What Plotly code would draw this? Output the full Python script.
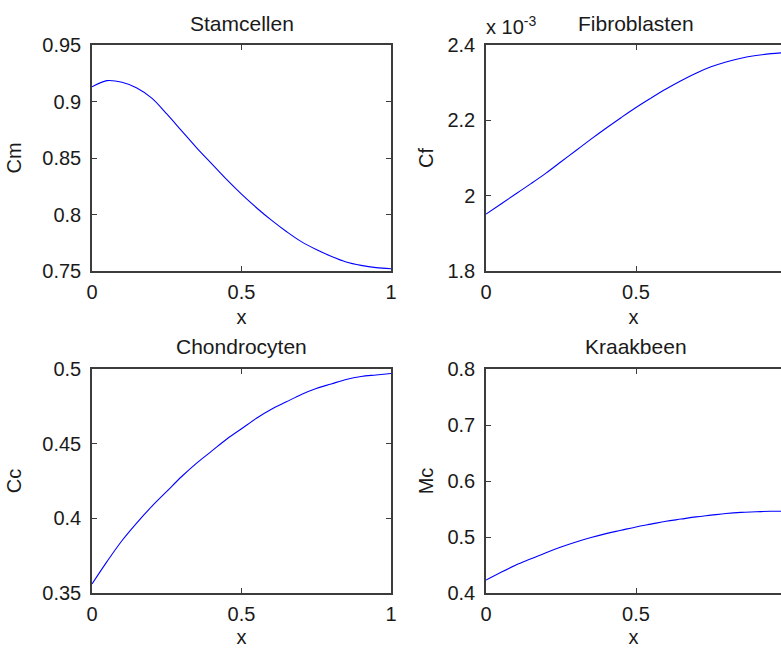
import plotly.graph_objects as go
from plotly.subplots import make_subplots

# Spatial coordinate (dimensionless position along the domain)
x = [0.00, 0.05, 0.10, 0.15, 0.20, 0.25, 0.30, 0.35, 0.40, 0.45, 0.50,
     0.55, 0.60, 0.65, 0.70, 0.75, 0.80, 0.85, 0.90, 0.95, 1.00]

# Stem cell concentration
cm = [0.913, 0.9185, 0.917, 0.912, 0.903, 0.889, 0.874, 0.859, 0.845, 0.831, 0.818,
      0.806, 0.795, 0.785, 0.776, 0.769, 0.763, 0.758, 0.755, 0.753, 0.752]

# Fibroblast concentration
cf = [1.951e-3, 1.978e-3, 2.005e-3, 2.032e-3, 2.060e-3, 2.090e-3, 2.120e-3, 2.150e-3,
      2.179e-3, 2.207e-3, 2.234e-3, 2.259e-3, 2.283e-3, 2.305e-3, 2.325e-3, 2.342e-3,
      2.355e-3, 2.365e-3, 2.372e-3, 2.377e-3, 2.380e-3]

# Chondrocyte concentration
cc = [0.356, 0.371, 0.385, 0.397, 0.408, 0.418, 0.428, 0.437, 0.445, 0.453, 0.460,
      0.467, 0.473, 0.478, 0.483, 0.487, 0.490, 0.493, 0.495, 0.496, 0.497]

# Cartilage matrix density
mc = [0.423, 0.437, 0.450, 0.461, 0.472, 0.482, 0.491, 0.499, 0.506, 0.512, 0.518,
      0.523, 0.528, 0.532, 0.536, 0.539, 0.542, 0.544, 0.545, 0.546, 0.546]

titles = ["Stamcellen", "Fibroblasten", "Chondrocyten", "Kraakbeen"]
ylabels = ["Cm", "Cf", "Cc", "Mc"]
x_ticks = [0, 0.5, 1]
cf_ticks = [1.8e-3, 2.0e-3, 2.2e-3, 2.4e-3]
cf_ticktext = ["1.8", "2", "2.2", "2.4"]

W, H = 781, 648
FONT = "Liberation Sans, Arial, sans-serif"
AXCOL = "#3c3c3c"
TXT = "#1a1a1a"

fig = make_subplots(rows=2, cols=2)

series = [(1, 1, cm), (1, 2, cf), (2, 1, cc), (2, 2, mc)]
for r, c, y in series:
    fig.add_trace(go.Scatter(x=x, y=y, mode="lines", line=dict(color="#0000ff", width=1.1, shape="spline"),
                             showlegend=False, hoverinfo="skip"), row=r, col=c)

# panel frames in pixels: (left, right) per column, (top, bottom) per row
left_px = {1: (92, 391), 2: (486, 786)}
top_px = {1: (45, 271), 2: (369, 593)}
# vertical centre of each row's panel title
title_px = {1: 23, 2: 346}
# gap between tick labels and the y-axis title, per column
ytitle_standoff = {1: 15, 2: 8}

yranges = {(1, 1): [0.75, 0.95], (1, 2): [1.8e-3, 2.4e-3], (2, 1): [0.35, 0.5], (2, 2): [0.4, 0.8]}
ydticks = {(1, 1): 0.05, (2, 1): 0.05, (2, 2): 0.1}

for i, (r, c, _) in enumerate(series):
    l, rr = left_px[c]
    t, b = top_px[r]
    x0 = l / W
    x1 = min(rr, W) / W
    # visible part of the horizontal range when the panel runs past the page edge
    xmax = (min(rr, W) - l) / (rr - l)
    fig.update_xaxes(row=r, col=c, domain=[x0, x1], range=[0, xmax], automargin=False,
                     tickvals=x_ticks, ticktext=["0", "0.5", "1"],
                     ticks="inside", ticklen=5, tickcolor=AXCOL, tickwidth=1,
                     showline=True, linecolor=AXCOL, linewidth=1.5, mirror="ticks",
                     showgrid=False, zeroline=False, ticklabelstandoff=2,
                     tickfont=dict(family=FONT, size=20, color=TXT),
                     title=dict(text="x", font=dict(family=FONT, size=20, color=TXT), standoff=8))
    yk = dict(domain=[1 - b / H, 1 - t / H], range=yranges[(r, c)], automargin=False,
              ticks="inside", ticklen=5, tickcolor=AXCOL, tickwidth=1,
              showline=True, linecolor=AXCOL, linewidth=1.5,
              mirror="ticks" if c == 1 else False,
              showgrid=False, zeroline=False, ticklabelstandoff=5,
              tickfont=dict(family=FONT, size=20, color=TXT),
              title=dict(text=ylabels[i], font=dict(family=FONT, size=20, color=TXT),
                         standoff=ytitle_standoff[c]))
    if (r, c) == (1, 2):
        yk.update(tickvals=cf_ticks, ticktext=cf_ticktext)
    else:
        yk.update(dtick=ydticks[(r, c)], tick0=0)
    fig.update_yaxes(row=r, col=c, **yk)
    # panel title
    fig.add_annotation(text=titles[i], x=(l + rr) / 2 / W, y=1 - title_px[r] / H, xref="paper", yref="paper",
                       xanchor="center", yanchor="middle", showarrow=False,
                       font=dict(family=FONT, size=21, color=TXT))

# exponent label of the Cf axis
fig.add_annotation(text="x 10<sup>-3</sup>", x=484 / W, y=1 - 26 / H, xref="paper", yref="paper",
                   xanchor="left", yanchor="middle", showarrow=False,
                   font=dict(family=FONT, size=20, color=TXT))

fig.update_layout(width=W, height=H, margin=dict(l=0, r=0, t=0, b=0, autoexpand=False),
                  paper_bgcolor="white", plot_bgcolor="white")

fig.write_html("out.html", config={"displayModeBar": False})
